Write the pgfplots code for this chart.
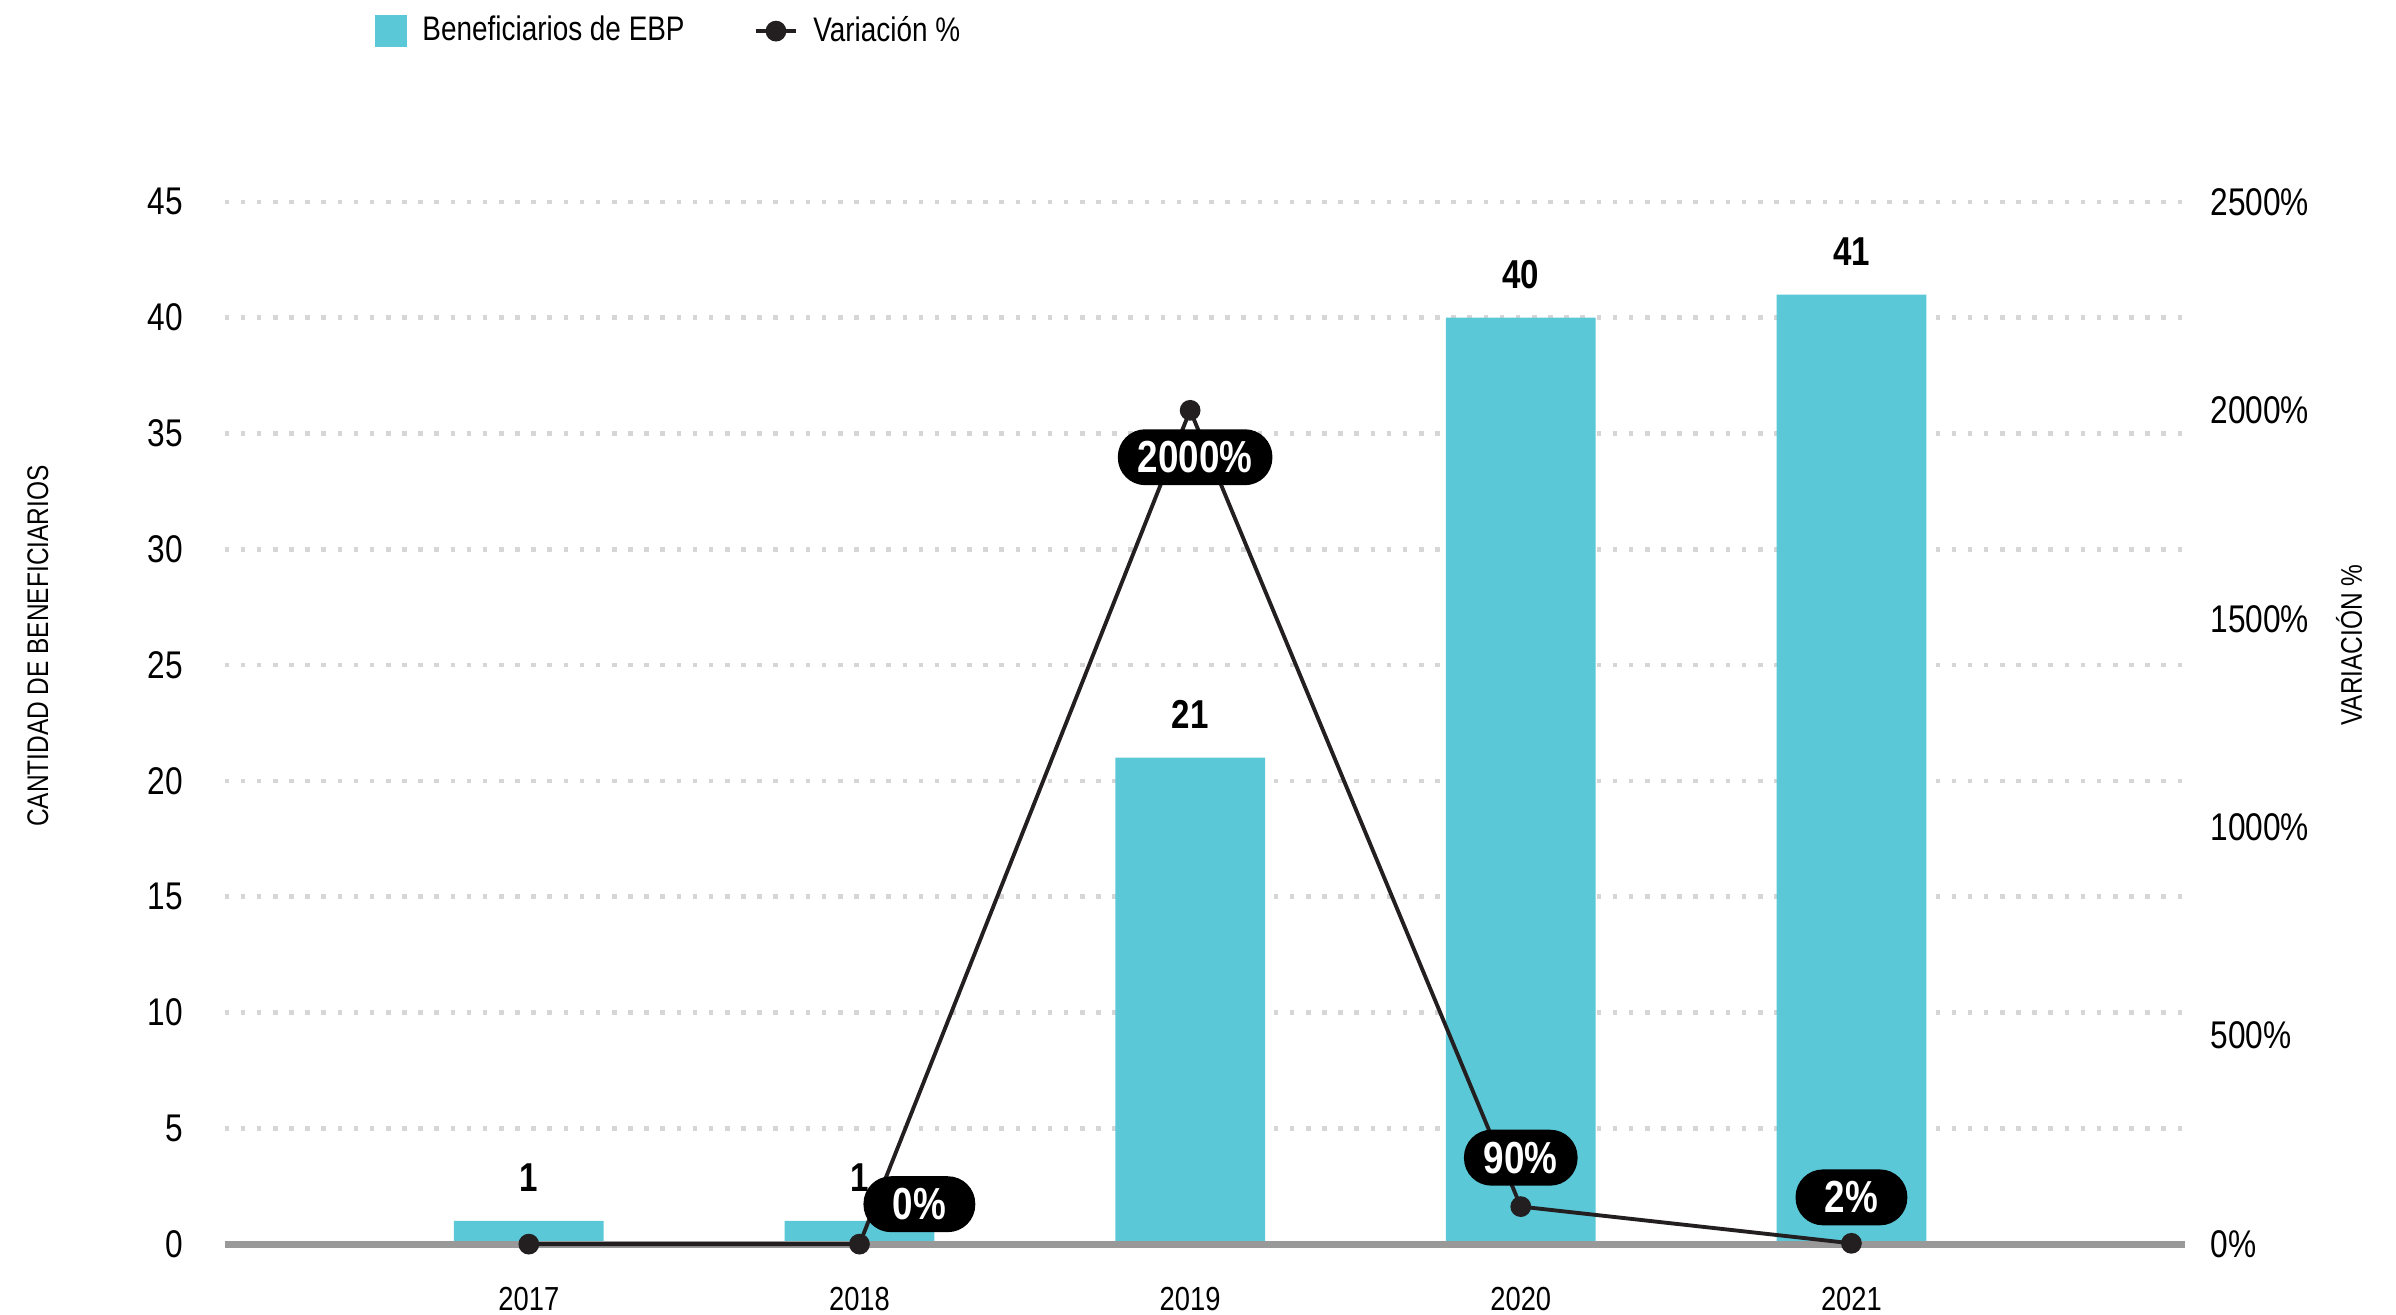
\documentclass[border=0pt]{standalone}
\usepackage{pgfplots}
\pgfplotsset{compat=1.18}
\usepackage{fontspec}
\setmainfont[FakeStretch=0.82]{Liberation Sans}
\definecolor{barc}{HTML}{5BC8D8}
\definecolor{linec}{HTML}{231F20}
\definecolor{gridc}{HTML}{D6D6D6}
\definecolor{basec}{HTML}{999999}
\tikzset{pill/.style={rectangle, rounded corners=0.275cm, fill=black, text=white, font=\bfseries\fontsize{12.8}{12.8}\selectfont, minimum height=0.56cm, minimum width=1.12cm, inner xsep=0.2cm, inner ysep=0pt}}
\begin{document}
\begin{tikzpicture}
\path[use as bounding box] (-2.25,-0.704) rectangle (21.75,12.462);
\begin{axis}[
  at={(0,0)}, anchor=south west, scale only axis,
  width=19.64cm, height=10.44cm,
  xmin=-0.92, xmax=5.01, ymin=0, ymax=45,
  xtick={0,1,2,3,4}, xticklabels={2017,2018,2019,2020,2021},
  ytick={0,5,10,15,20,25,30,35,40,45},
  yticklabels={0,5,10,15,20,25,30,35,40,45},
  axis line style={draw=none}, major tick length=0pt,
  ymajorgrids, grid style={gridc, line width=1.3pt, dash pattern=on 1.3pt off 3.3pt},
  xticklabel style={font=\fontsize{9.5}{9.5}\selectfont, anchor=center, inner sep=0pt, yshift=-0.55cm},
  yticklabel style={font=\fontsize{11}{11}\selectfont, anchor=east, inner sep=0pt, xshift=-0.41cm},
  clip=false,
  ybar, bar width=1.5cm,
  /pgf/number format/assume math mode=true,
]
\addplot[fill=barc, draw=none, nodes near coords,
  nodes near coords style={font=\bfseries\fontsize{11.5}{11.5}\selectfont, anchor=center, text=black, yshift=0.43cm}]
  coordinates {(0,1) (1,1) (2,21) (3,40) (4,41)};
\draw[basec, line width=2pt] (rel axis cs:0,0) -- (rel axis cs:1,0);
\end{axis}
\node[rotate=90, font=\fontsize{8.5}{8.5}\selectfont, inner sep=0pt] at (-1.87,5.99) {CANTIDAD DE BENEFICIARIOS};
\node[rotate=90, font=\fontsize{8.5}{8.5}\selectfont, inner sep=0pt] at (21.28,6.0) {VARIACIÓN \%};
\begin{axis}[
  at={(0,0)}, anchor=south west, scale only axis,
  width=19.64cm, height=10.44cm,
  xmin=-0.92, xmax=5.01, ymin=0, ymax=2500,
  axis x line=none, axis y line*=right,
  axis line style={draw=none}, major tick length=0pt,
  ytick={0,500,1000,1500,2000,2500},
  yticklabels={0\%,500\%,1000\%,1500\%,2000\%,2500\%},
  yticklabel style={font=\fontsize{11}{11}\selectfont, anchor=west, inner sep=0pt, xshift=0.245cm},
  clip=false,
  legend columns=-1,
  legend style={at={(0.0764,1.1638)}, anchor=west, draw=none, inner sep=0pt,
    font=\fontsize{9.7}{9.7}\selectfont,
    /tikz/every odd column/.append style={column sep=0.08cm},
    /tikz/every even column/.append style={column sep=0.62cm}},
]
\addlegendimage{legend image code/.code={\fill[barc] (0cm,-0.155cm) rectangle (0.31cm,0.155cm);}}
\addlegendentry{Beneficiarios de EBP}
\addplot[linec, line width=1.1pt, mark=*, mark size=2.4pt, mark options={fill=linec, draw=linec},
  legend image code/.code={\draw[linec, line width=1.1pt] (0cm,0cm) -- (0.41cm,0cm); \fill[linec] (0.205cm,0cm) circle (2.4pt);}]
  coordinates {(0,0) (1,0) (2,2000) (3,90) (4,2)};
\addlegendentry{Variación \%}
\node[pill, xshift=0.60cm, yshift=0.40cm] at (axis cs:1,0) {0\%};
\node[pill, xshift=0.05cm, yshift=-0.47cm] at (axis cs:2,2000) {2000\%};
\node[pill, yshift=0.49cm] at (axis cs:3,90) {90\%};
\node[pill, yshift=0.46cm] at (axis cs:4,2) {2\%};
\end{axis}
\end{tikzpicture}
\end{document}
